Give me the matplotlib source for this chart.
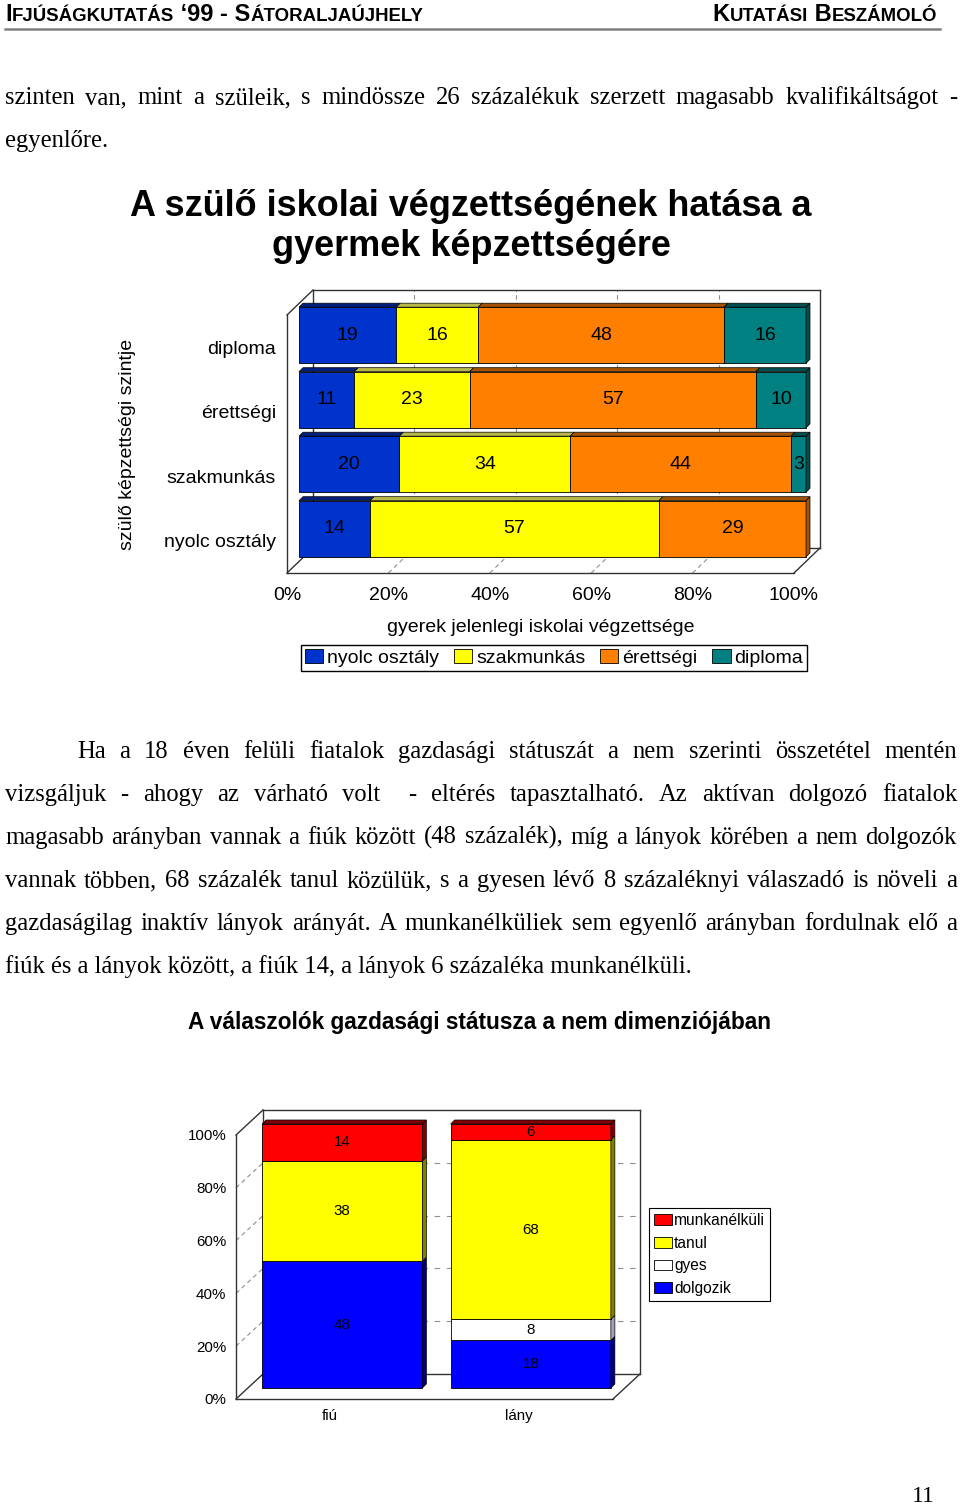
import matplotlib
matplotlib.use("Agg")
import matplotlib.pyplot as plt
from matplotlib.patches import Polygon
from matplotlib.lines import Line2D
import numpy as np

W, H = 960, 1505
SERIF = "Liberation Serif"
SANS = "Liberation Sans"

# ---- adatok: 1. ábra (szülő végzettsége -> gyerek végzettsége, %)
szulo_kat = ["nyolc osztály", "szakmunkás", "érettségi", "diploma"]
gyerek_kat = ["nyolc osztály", "szakmunkás", "érettségi", "diploma"]
gy_nyolc = [14, 20, 11, 19]
gy_szakm = [57, 34, 23, 16]
gy_erett = [29, 44, 57, 48]
gy_diploma = [0, 3, 10, 16]
szin1 = ["#0033CC", "#FFFF00", "#FF8000", "#008080"]
szin1_teto = ["#001F7A", "#B8B84A", "#A35200", "#004D4D"]

# ---- adatok: 2. ábra (gazdasági státusz nemenként, %)
nem_kat = ["fiú", "lány"]
dolgozik = [48, 18]
gyes = [0, 8]
tanul = [38, 68]
munkanelkuli = [14, 6]
statusz_nev = ["dolgozik", "gyes", "tanul", "munkanélküli"]
szin2 = ["#0000FF", "#FFFFFF", "#FFFF00", "#FF0000"]
szin2_old = ["#000080", "#A0A0C0", "#808000", "#800000"]

fig = plt.figure(figsize=(9.6, 15.05), dpi=100)
renderer = fig.canvas.get_renderer()


def fx(px):
    return px / W


def fy(py):
    return 1 - py / H


def sorkizart(sor, x0, x1, yb, meret=17.7):
    szavak = sor.split(" ")
    tt = [fig.text(0, fy(yb), s, fontsize=meret, family=SERIF, va="baseline") for s in szavak]
    sz = [t.get_window_extent(renderer).width for t in tt]
    res = (x1 - x0 - sum(sz)) / (len(szavak) - 1)
    x = x0
    for t, w in zip(tt, sz):
        t.set_x(fx(x))
        x += w + res


def kiskapitalis(szoveg, x, yb, nagy, kicsi, ha="left"):
    darabok = []
    for ch in szoveg:
        kis = ch.islower()
        if darabok and darabok[-1][1] == kis:
            darabok[-1][0] += ch
        else:
            darabok.append([ch, kis])
    tt = []
    for s, kis in darabok:
        t = fig.text(0, fy(yb), s.upper(), fontsize=kicsi if kis else nagy,
                     family=SANS, weight="bold", va="baseline")
        tt.append((t, t.get_window_extent(renderer).width))
    ossz = sum(w for _, w in tt)
    if ha == "right":
        x = x - ossz
    for t, w in tt:
        t.set_x(fx(x))
        x += w


# ---- fejléc
kiskapitalis("Ifjúságkutatás ‘99 - Sátoraljaújhely", 5, 21, 17, 13.4)
kiskapitalis("Kutatási Beszámoló", 937, 21, 17, 13.4, ha="right")
fig.add_artist(Line2D([fx(5), fx(940)], [fy(29), fy(29)], color="#808080", lw=1.8))

# ---- szöveg 1
sorkizart("szinten van, mint a szüleik, s mindössze 26 százalékuk szerzett magasabb kvalifikáltságot -",
          5, 957, 104)
fig.text(fx(5), fy(147), "egyenlőre.", fontsize=17.7, family=SERIF, va="baseline")

# ---- 1. ábra
fig.text(fx(471), fy(206), "A szülő iskolai végzettségének hatása a", ha="center", va="center",
         fontsize=25.9, weight="bold", family=SANS)
fig.text(fx(471), fy(247), "gyermek képzettségére", ha="center", va="center",
         fontsize=25.9, weight="bold", family=SANS)

ax1 = fig.add_axes([fx(287), fy(573), (794 - 287) / W, (573 - 315) / H])
ax1.set_xlim(0, 100)
ax1.set_ylim(-0.5, 3.5)
for s in ax1.spines.values():
    s.set_visible(False)
px1, py1 = 507 / 100, 258 / 4
wx, wy = 26 / px1, 25 / py1
bx, by = 12 / px1, 12 / py1
tx, ty = 4 / px1, 4 / py1
keret = "#333333"

# rács
for t in [20, 40, 60, 80]:
    ax1.plot([t + wx, t + wx], [-0.5 + wy, 3.5 + wy], color="#909090", lw=0.8, ls=(0, (4, 3)),
             zorder=1, clip_on=False)
    ax1.plot([t, t + wx], [-0.5, -0.5 + wy], color="#909090", lw=0.8, ls=(0, (4, 3)),
             zorder=1, clip_on=False)
vonalak1 = [
    ([0, 0], [-0.5, 3.5]), ([0, wx], [3.5, 3.5 + wy]), ([wx, 100 + wx], [3.5 + wy, 3.5 + wy]),
    ([100 + wx, 100 + wx], [3.5 + wy, -0.5 + wy]), ([wx, wx], [3.5 + wy, -0.5 + wy]),
    ([wx, 100 + wx], [-0.5 + wy, -0.5 + wy]), ([0, 100], [-0.5, -0.5]),
    ([0, wx], [-0.5, -0.5 + wy]), ([100, 100 + wx], [-0.5, -0.5 + wy]),
]
for xs, ys in vonalak1:
    ax1.plot(xs, ys, color=keret, lw=1.0, zorder=2, clip_on=False)

adat1 = np.array([gy_nyolc, gy_szakm, gy_erett, gy_diploma], dtype=float)
szazalek1 = adat1 / adat1.sum(axis=0) * 100
ys = np.arange(len(szulo_kat))
h1 = 0.87
bal = np.zeros(len(szulo_kat))
for j, nev in enumerate(gyerek_kat):
    w = szazalek1[j]
    ax1.barh(ys + by, w, left=bal + bx, height=h1, color=szin1[j], edgecolor="black",
             lw=0.6, zorder=3, clip_on=False, label=nev)
    for i in range(len(ys)):
        if adat1[j, i] == 0:
            continue
        l, r = bal[i] + bx, bal[i] + w[i] + bx
        top = ys[i] + h1 / 2 + by
        ax1.add_patch(Polygon([(l, top), (r, top), (r + tx, top + ty), (l + tx, top + ty)],
                              closed=True, fc=szin1_teto[j], ec="black", lw=0.5, zorder=3, clip_on=False))
        ax1.text((l + r) / 2, ys[i] + by, f"{adat1[j, i]:.0f}", ha="center", va="center",
                 fontsize=14, family=SANS, zorder=5)
    bal = bal + w
# jobb oldallap
for i in range(len(ys)):
    j = max(k for k in range(len(gyerek_kat)) if adat1[k, i] > 0)
    r = bal[i] + bx
    lo, hi = ys[i] - h1 / 2 + by, ys[i] + h1 / 2 + by
    ax1.add_patch(Polygon([(r, lo), (r, hi), (r + tx, hi + ty), (r + tx, lo + ty)],
                          closed=True, fc=szin1_teto[j], ec="black", lw=0.5, zorder=3, clip_on=False))

ax1.set_yticks(ys)
ax1.set_yticklabels(szulo_kat, fontsize=14, family=SANS)
ax1.set_xticks([0, 20, 40, 60, 80, 100])
ax1.set_xticklabels([f"{t}%" for t in [0, 20, 40, 60, 80, 100]], fontsize=14, family=SANS)
ax1.tick_params(axis="y", length=0, pad=8)
ax1.tick_params(axis="x", length=0, pad=10)
ax1.set_xlabel("gyerek jelenlegi iskolai végzettsége", fontsize=14, family=SANS)
ax1.xaxis.set_label_coords((541 - 287) / 507, (573 - 619) / 258)
ax1.set_ylabel("szülő képzettségi szintje", fontsize=14, family=SANS)
ax1.yaxis.set_label_coords(-0.298, 0.5)
leg1 = ax1.legend(loc="center", bbox_to_anchor=((554 - 287) / 507, (573 - 658) / 258), ncol=4,
                  prop={"family": SANS, "size": 14}, frameon=True, fancybox=False, edgecolor="black",
                  framealpha=1, borderpad=0.2, handlelength=0.95, handleheight=0.7,
                  handletextpad=0.2, columnspacing=0.75, borderaxespad=0)
leg1.get_frame().set_linewidth(1.0)

# ---- szöveg 2
sorok = [
    "vizsgáljuk - ahogy az várható volt  - eltérés tapasztalható. Az aktívan dolgozó fiatalok",
    "magasabb arányban vannak a fiúk között (48 százalék), míg a lányok körében a nem dolgozók",
    "vannak többen, 68 százalék tanul közülük, s a gyesen lévő 8 százaléknyi válaszadó is növeli a",
    "gazdaságilag inaktív lányok arányát. A munkanélküliek sem egyenlő arányban fordulnak elő a",
]
sorkizart("Ha a 18 éven felüli fiatalok gazdasági státuszát a nem szerinti összetétel mentén", 77, 957, 758)
for k, s in enumerate(sorok):
    sorkizart(s, 5, 957, 801 + 43 * k)
fig.text(fx(5), fy(973), "fiúk és a lányok között, a fiúk 14, a lányok 6 százaléka munkanélküli.",
         fontsize=17.7, family=SERIF, va="baseline")

# ---- 2. ábra
fig.text(fx(480), fy(1022), "A válaszolók gazdasági státusza a nem dimenziójában", ha="center",
         va="center", fontsize=16.3, weight="bold", family=SANS)

ax2 = fig.add_axes([fx(236), fy(1399), 377 / W, 264 / H])
ax2.set_xlim(-0.5, 1.5)
ax2.set_ylim(0, 100)
for s in ax2.spines.values():
    s.set_visible(False)
px2, py2 = 377 / 2, 264 / 100
wx, wy = 27 / px2, 25 / py2
bx, by = 12 / px2, 11 / py2
tx, ty = 4 / px2, 4 / py2

for t in [20, 40, 60, 80]:
    ax2.plot([-0.5 + wx, 1.5 + wx], [t + wy, t + wy], color="#909090", lw=0.8, ls=(0, (5, 6)),
             zorder=1, clip_on=False)
    ax2.plot([-0.5, -0.5 + wx], [t, t + wy], color="#909090", lw=0.8, ls=(0, (4, 3)),
             zorder=1, clip_on=False)
vonalak2 = [
    ([-0.5, -0.5], [0, 100]), ([-0.5, -0.5 + wx], [100, 100 + wy]),
    ([-0.5 + wx, 1.5 + wx], [100 + wy, 100 + wy]), ([1.5 + wx, 1.5 + wx], [100 + wy, wy]),
    ([-0.5 + wx, -0.5 + wx], [100 + wy, wy]), ([-0.5 + wx, 1.5 + wx], [wy, wy]),
    ([-0.5, 1.5], [0, 0]), ([-0.5, -0.5 + wx], [0, wy]), ([1.5, 1.5 + wx], [0, wy]),
]
for xs_, ys_ in vonalak2:
    ax2.plot(xs_, ys_, color=keret, lw=1.0, zorder=2, clip_on=False)

adat2 = np.array([dolgozik, gyes, tanul, munkanelkuli], dtype=float)
xs = np.arange(len(nem_kat))
w2 = 0.85
alap = np.zeros(len(nem_kat))
kezelok = []
for j, nev in enumerate(statusz_nev):
    v = adat2[j]
    b = ax2.bar(xs + bx, v, bottom=alap + by, width=w2, color=szin2[j], edgecolor="black",
                lw=0.6, zorder=3, clip_on=False, label=nev)
    kezelok.append(b)
    for i in range(len(xs)):
        if v[i] == 0:
            continue
        r = xs[i] + w2 / 2 + bx
        lo, hi = alap[i] + by, alap[i] + v[i] + by
        ax2.add_patch(Polygon([(r, lo), (r, hi), (r + tx, hi + ty), (r + tx, lo + ty)],
                              closed=True, fc=szin2_old[j], ec="black", lw=0.5, zorder=3, clip_on=False))
        ax2.text(xs[i] + bx, alap[i] + v[i] / 2 + by, f"{v[i]:.0f}", ha="center", va="center",
                 fontsize=10.9, family=SANS, zorder=5)
    alap = alap + v
for i in range(len(xs)):
    l, r = xs[i] - w2 / 2 + bx, xs[i] + w2 / 2 + bx
    top = alap[i] + by
    ax2.add_patch(Polygon([(l, top), (r, top), (r + tx, top + ty), (l + tx, top + ty)],
                          closed=True, fc=szin2_old[3], ec="black", lw=0.5, zorder=3, clip_on=False))

ax2.set_yticks([0, 20, 40, 60, 80, 100])
ax2.set_yticklabels([f"{t}%" for t in [0, 20, 40, 60, 80, 100]], fontsize=10.9, family=SANS)
ax2.set_xticks(xs)
ax2.set_xticklabels(nem_kat, fontsize=10.9, family=SANS)
ax2.tick_params(axis="y", length=0, pad=7)
ax2.tick_params(axis="x", length=0, pad=7)
leg2 = ax2.legend(handles=kezelok[::-1], loc="center left",
                  bbox_to_anchor=((649 - 236) / 377, (1399 - 1254.5) / 264),
                  prop={"family": SANS, "size": 11.2}, frameon=True, fancybox=False, edgecolor="black",
                  framealpha=1, borderpad=0.3, handlelength=1.15, handleheight=0.7,
                  handletextpad=0.15, labelspacing=0.5, borderaxespad=0)
leg2.get_frame().set_linewidth(0.8)

# ---- oldalszám
fig.text(fx(935), fy(1502), "11", ha="right", va="baseline", fontsize=17, family=SERIF)

fig.savefig("out.png", dpi=100)
